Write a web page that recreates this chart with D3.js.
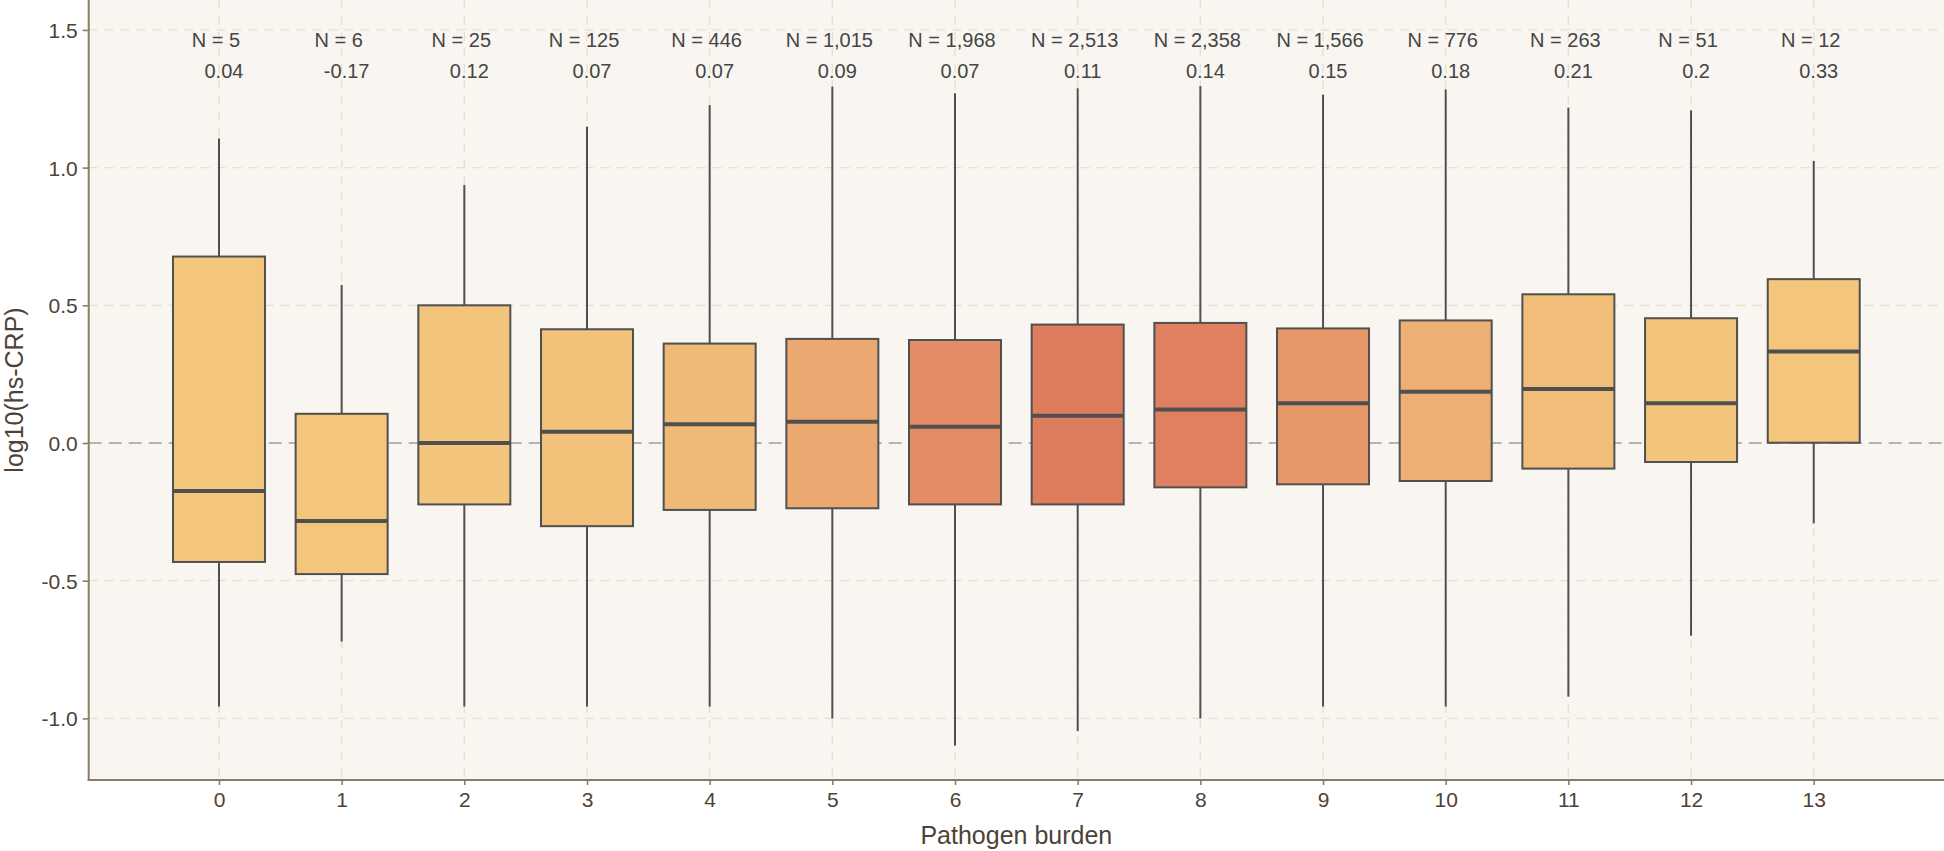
<!DOCTYPE html>
<html>
<head>
<meta charset="utf-8">
<script src="https://cdn.jsdelivr.net/npm/d3@7"></script>
<style>
  html, body { margin: 0; padding: 0; background: #ffffff; }
  svg { display: block; font-family: "Liberation Sans", Arial, Helvetica, sans-serif; }
</style>
</head>
<body>
<svg id="chart" width="1944" height="851"></svg>
<script>
// ---- data ----
const categories = ["0","1","2","3","4","5","6","7","8","9","10","11","12","13"];
const nCounts   = [5, 6, 25, 125, 446, 1015, 1968, 2513, 2358, 1566, 776, 263, 51, 12];
const meanLabels = ["0.04","-0.17","0.12","0.07","0.07","0.09","0.07","0.11","0.14","0.15","0.18","0.21","0.2","0.33"];
const q1Values     = [-0.432,-0.476,-0.223,-0.302,-0.243,-0.237,-0.223,-0.223,-0.161,-0.150,-0.138,-0.093,-0.069, 0.001];
const medianValues = [-0.174,-0.283, 0.000, 0.041, 0.068, 0.077, 0.059, 0.099, 0.122, 0.144, 0.186, 0.196, 0.144, 0.332];
const q3Values     = [ 0.677, 0.106, 0.500, 0.413, 0.361, 0.378, 0.374, 0.430, 0.436, 0.416, 0.445, 0.540, 0.453, 0.595];
const whiskerHigh  = [ 1.106, 0.574, 0.937, 1.149, 1.227, 1.294, 1.270, 1.288, 1.296, 1.265, 1.284, 1.218, 1.208, 1.024];
const whiskerLow   = [-0.957,-0.721,-0.957,-0.957,-0.957,-1.000,-1.099,-1.046,-1.000,-0.957,-0.957,-0.921,-0.700,-0.292];
const yTicks = [-1.0, -0.5, 0.0, 0.5, 1.0, 1.5];
const yTickLabels = ["-1.0","-0.5","0.0","0.5","1.0","1.5"];
const xTitle = "Pathogen burden";
const yTitle = "log10(hs-CRP)";

// ---- layout ----
const svg = d3.select("#chart");
const panel = { left: 88.7, right: 1944, top: 0, bottom: 780 };

const x = d3.scaleLinear().domain([-1.062, 14.062]).range([panel.left, panel.right]);
const y = d3.scaleLinear().domain([-1.2237, 1.6086]).range([panel.bottom, panel.top]);
const fill = d3.scaleLinear().domain([0, d3.max(nCounts)]).range(["#F3C67C", "#DE7C5E"]);
const boxHalf = 0.375; // in category units

const rows = categories.map((c, i) => ({
  c, i, n: nCounts[i], mean: meanLabels[i],
  q1: q1Values[i], med: medianValues[i], q3: q3Values[i],
  hi: whiskerHigh[i], lo: whiskerLow[i]
}));

// panel background
svg.append("rect")
  .attr("x", panel.left).attr("y", panel.top)
  .attr("width", panel.right - panel.left).attr("height", panel.bottom - panel.top)
  .attr("fill", "#F9F6F1");

// gridlines
const grid = svg.append("g").attr("fill", "none");
grid.selectAll("line.h").data(yTicks.filter(t => t !== 0)).join("line")
  .attr("x1", panel.left).attr("x2", panel.right)
  .attr("y1", d => y(d)).attr("y2", d => y(d))
  .attr("stroke", "#E6DFCA").attr("stroke-width", 1.3).attr("stroke-dasharray", "9,7");
grid.selectAll("line.v").data(rows).join("line")
  .attr("x1", d => x(d.i)).attr("x2", d => x(d.i))
  .attr("y1", panel.top).attr("y2", panel.bottom)
  .attr("stroke", "#E6DFCA").attr("stroke-width", 1.3).attr("stroke-dasharray", "9,7");
// zero reference line
svg.append("line")
  .attr("x1", panel.left).attr("x2", panel.right)
  .attr("y1", y(0)).attr("y2", y(0))
  .attr("stroke", "#9E9E9E").attr("stroke-width", 1.5).attr("stroke-dasharray", "13,7");

// boxes
const boxes = svg.append("g");
boxes.selectAll("line.w").data(rows).join("line")
  .attr("x1", d => x(d.i)).attr("x2", d => x(d.i))
  .attr("y1", d => y(d.hi)).attr("y2", d => y(d.q3))
  .attr("stroke", "#505050").attr("stroke-width", 2);
boxes.selectAll("line.wl").data(rows).join("line")
  .attr("x1", d => x(d.i)).attr("x2", d => x(d.i))
  .attr("y1", d => y(d.q1)).attr("y2", d => y(d.lo))
  .attr("stroke", "#505050").attr("stroke-width", 2);
boxes.selectAll("rect.b").data(rows).join("rect")
  .attr("x", d => x(d.i - boxHalf)).attr("width", d => x(d.i + boxHalf) - x(d.i - boxHalf))
  .attr("y", d => y(d.q3)).attr("height", d => y(d.q1) - y(d.q3))
  .attr("fill", d => fill(d.n))
  .attr("stroke", "#505050").attr("stroke-width", 2);
boxes.selectAll("line.m").data(rows).join("line")
  .attr("x1", d => x(d.i - boxHalf)).attr("x2", d => x(d.i + boxHalf))
  .attr("y1", d => y(d.med)).attr("y2", d => y(d.med))
  .attr("stroke", "#505050").attr("stroke-width", 4);

// annotations
const ann = svg.append("g").attr("fill", "#454545").attr("font-size", 20).attr("text-anchor", "middle");
ann.selectAll("text.n").data(rows).join("text")
  .attr("x", d => x(d.i) - 3).attr("y", 46.5)
  .text(d => "N = " + d3.format(",")(d.n));
ann.selectAll("text.mean").data(rows).join("text")
  .attr("x", d => x(d.i) + 5).attr("y", 77.5)
  .text(d => d.mean);

// axes
const axisColor = "#8C7B64";
const textColor = "#4E4236";
const xAxis = svg.append("g").attr("transform", `translate(0,${panel.bottom})`)
  .call(d3.axisBottom(x).tickValues(d3.range(categories.length)).tickFormat(i => categories[i]).tickSize(5).tickSizeOuter(0));
const yAxis = svg.append("g").attr("transform", `translate(${panel.left},0)`)
  .call(d3.axisLeft(y).tickValues(yTicks).tickFormat((d, i) => yTickLabels[i]).tickSize(6).tickSizeOuter(0));
[xAxis, yAxis].forEach(a => {
  a.select(".domain").remove();
  a.selectAll(".tick line").attr("stroke", axisColor).attr("stroke-width", 1.6);
  a.selectAll(".tick text").attr("fill", textColor).attr("font-size", 21)
    .attr("font-family", "'Liberation Sans', Arial, Helvetica, sans-serif");
});
xAxis.selectAll(".tick text").attr("dy", null).attr("y", 27);
yAxis.selectAll(".tick text").attr("x", -11).attr("dy", "0.36em");

svg.append("line").attr("x1", panel.left).attr("x2", panel.left)
  .attr("y1", panel.top).attr("y2", panel.bottom + 1)
  .attr("stroke", axisColor).attr("stroke-width", 2);
svg.append("line").attr("x1", panel.left - 1).attr("x2", panel.right)
  .attr("y1", panel.bottom).attr("y2", panel.bottom)
  .attr("stroke", axisColor).attr("stroke-width", 2);

// titles
svg.append("text")
  .attr("x", (panel.left + panel.right) / 2).attr("y", 844)
  .attr("text-anchor", "middle").attr("font-size", 25).attr("fill", textColor)
  .text(xTitle);
svg.append("text")
  .attr("transform", `translate(23,${(panel.top + panel.bottom) / 2}) rotate(-90)`)
  .attr("text-anchor", "middle").attr("font-size", 25).attr("fill", textColor)
  .text(yTitle);
</script>
</body>
</html>
